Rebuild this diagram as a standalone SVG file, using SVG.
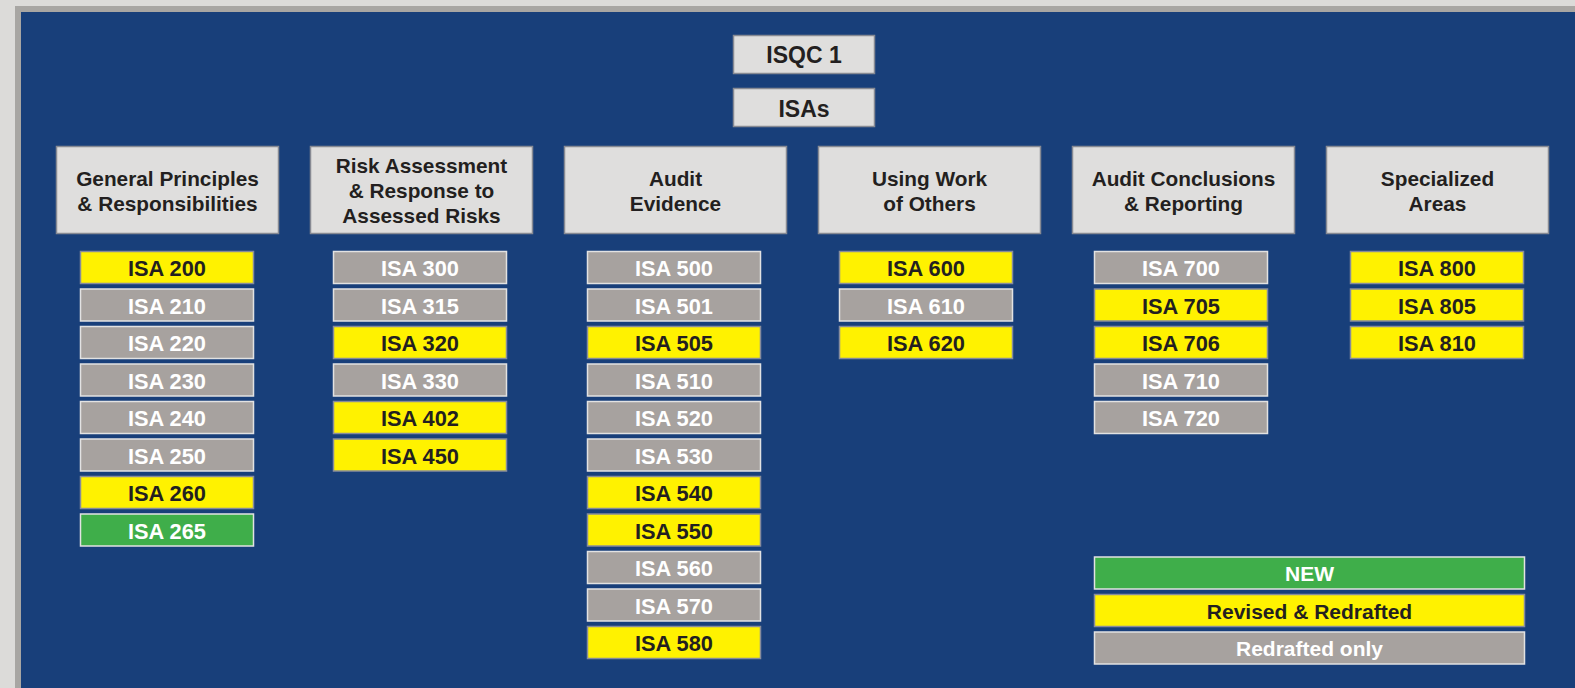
<svg xmlns="http://www.w3.org/2000/svg" width="1575" height="688" viewBox="0 0 1575 688">
<style>
text{font-family:"Liberation Sans",Arial,sans-serif;font-weight:bold;text-anchor:middle}
.hd rect{fill:#dfdedd;stroke:#878a93;stroke-width:1.5}
.hd text{fill:#231f20;font-size:20.8px}
.top rect{fill:#dfdedd;stroke:#878a93;stroke-width:1.5}
.top text{fill:#231f20;font-size:23px}
.y rect{fill:#fff200;stroke:#878c9c;stroke-width:1.5}
.y text{fill:#231f20;font-size:21.8px}
.g rect{fill:#a7a29f;stroke:#e2e2e2;stroke-width:1.5}
.g text{fill:#ffffff;font-size:21.8px}
.n rect{fill:#3fae4a;stroke:#e2e2e2;stroke-width:1.5}
.n text{fill:#ffffff;font-size:21.8px}
.lg text{font-size:21px}
</style>
<rect x="0" y="0" width="1575" height="688" fill="#dcdbd9"/>
<rect x="15" y="6" width="1560" height="682" fill="#a8a6a3"/>
<rect x="21" y="12" width="1554" height="676" fill="#183f7a"/>

<g id="isqc1" class="top"><rect x="733.5" y="35.5" width="141" height="38"/><text x="804" y="63">ISQC 1</text></g>
<g id="isas" class="top"><rect x="733.5" y="88.5" width="141" height="38"/><text x="804" y="117">ISAs</text></g>

<g id="h-general" class="hd"><rect x="56.5" y="146.5" width="222" height="87"/><text x="167.5" y="186">General Principles</text><text x="167.5" y="211">&amp; Responsibilities</text></g>
<g id="h-risk" class="hd"><rect x="310.5" y="146.5" width="222" height="87"/><text x="421.5" y="173">Risk Assessment</text><text x="421.5" y="198">&amp; Response to</text><text x="421.5" y="223">Assessed Risks</text></g>
<g id="h-evidence" class="hd"><rect x="564.5" y="146.5" width="222" height="87"/><text x="675.5" y="186">Audit</text><text x="675.5" y="211">Evidence</text></g>
<g id="h-others" class="hd"><rect x="818.5" y="146.5" width="222" height="87"/><text x="929.5" y="186">Using Work</text><text x="929.5" y="211">of Others</text></g>
<g id="h-conclusions" class="hd"><rect x="1072.5" y="146.5" width="222" height="87"/><text x="1183.5" y="186">Audit Conclusions</text><text x="1183.5" y="211">&amp; Reporting</text></g>
<g id="h-special" class="hd"><rect x="1326.5" y="146.5" width="222" height="87"/><text x="1437.5" y="186">Specialized</text><text x="1437.5" y="211">Areas</text></g>

<!-- column 1 -->
<g id="isa200" class="y"><rect x="80.5" y="251.5" width="173" height="32"/><text x="167" y="276">ISA 200</text></g>
<g id="isa210" class="g"><rect x="80.5" y="289" width="173" height="32"/><text x="167" y="313.5">ISA 210</text></g>
<g id="isa220" class="g"><rect x="80.5" y="326.5" width="173" height="32"/><text x="167" y="351">ISA 220</text></g>
<g id="isa230" class="g"><rect x="80.5" y="364" width="173" height="32"/><text x="167" y="388.5">ISA 230</text></g>
<g id="isa240" class="g"><rect x="80.5" y="401.5" width="173" height="32"/><text x="167" y="426">ISA 240</text></g>
<g id="isa250" class="g"><rect x="80.5" y="439" width="173" height="32"/><text x="167" y="463.5">ISA 250</text></g>
<g id="isa260" class="y"><rect x="80.5" y="476.5" width="173" height="32"/><text x="167" y="501">ISA 260</text></g>
<g id="isa265" class="n"><rect x="80.5" y="514" width="173" height="32"/><text x="167" y="538.5">ISA 265</text></g>

<!-- column 2 -->
<g id="isa300" class="g"><rect x="333.5" y="251.5" width="173" height="32"/><text x="420" y="276">ISA 300</text></g>
<g id="isa315" class="g"><rect x="333.5" y="289" width="173" height="32"/><text x="420" y="313.5">ISA 315</text></g>
<g id="isa320" class="y"><rect x="333.5" y="326.5" width="173" height="32"/><text x="420" y="351">ISA 320</text></g>
<g id="isa330" class="g"><rect x="333.5" y="364" width="173" height="32"/><text x="420" y="388.5">ISA 330</text></g>
<g id="isa402" class="y"><rect x="333.5" y="401.5" width="173" height="32"/><text x="420" y="426">ISA 402</text></g>
<g id="isa450" class="y"><rect x="333.5" y="439" width="173" height="32"/><text x="420" y="463.5">ISA 450</text></g>

<!-- column 3 -->
<g id="isa500" class="g"><rect x="587.5" y="251.5" width="173" height="32"/><text x="674" y="276">ISA 500</text></g>
<g id="isa501" class="g"><rect x="587.5" y="289" width="173" height="32"/><text x="674" y="313.5">ISA 501</text></g>
<g id="isa505" class="y"><rect x="587.5" y="326.5" width="173" height="32"/><text x="674" y="351">ISA 505</text></g>
<g id="isa510" class="g"><rect x="587.5" y="364" width="173" height="32"/><text x="674" y="388.5">ISA 510</text></g>
<g id="isa520" class="g"><rect x="587.5" y="401.5" width="173" height="32"/><text x="674" y="426">ISA 520</text></g>
<g id="isa530" class="g"><rect x="587.5" y="439" width="173" height="32"/><text x="674" y="463.5">ISA 530</text></g>
<g id="isa540" class="y"><rect x="587.5" y="476.5" width="173" height="32"/><text x="674" y="501">ISA 540</text></g>
<g id="isa550" class="y"><rect x="587.5" y="514" width="173" height="32"/><text x="674" y="538.5">ISA 550</text></g>
<g id="isa560" class="g"><rect x="587.5" y="551.5" width="173" height="32"/><text x="674" y="576">ISA 560</text></g>
<g id="isa570" class="g"><rect x="587.5" y="589" width="173" height="32"/><text x="674" y="613.5">ISA 570</text></g>
<g id="isa580" class="y"><rect x="587.5" y="626.5" width="173" height="32"/><text x="674" y="651">ISA 580</text></g>

<!-- column 4 -->
<g id="isa600" class="y"><rect x="839.5" y="251.5" width="173" height="32"/><text x="926" y="276">ISA 600</text></g>
<g id="isa610" class="g"><rect x="839.5" y="289" width="173" height="32"/><text x="926" y="313.5">ISA 610</text></g>
<g id="isa620" class="y"><rect x="839.5" y="326.5" width="173" height="32"/><text x="926" y="351">ISA 620</text></g>

<!-- column 5 -->
<g id="isa700" class="g"><rect x="1094.5" y="251.5" width="173" height="32"/><text x="1181" y="276">ISA 700</text></g>
<g id="isa705" class="y"><rect x="1094.5" y="289" width="173" height="32"/><text x="1181" y="313.5">ISA 705</text></g>
<g id="isa706" class="y"><rect x="1094.5" y="326.5" width="173" height="32"/><text x="1181" y="351">ISA 706</text></g>
<g id="isa710" class="g"><rect x="1094.5" y="364" width="173" height="32"/><text x="1181" y="388.5">ISA 710</text></g>
<g id="isa720" class="g"><rect x="1094.5" y="401.5" width="173" height="32"/><text x="1181" y="426">ISA 720</text></g>

<!-- column 6 -->
<g id="isa800" class="y"><rect x="1350.5" y="251.5" width="173" height="32"/><text x="1437" y="276">ISA 800</text></g>
<g id="isa805" class="y"><rect x="1350.5" y="289" width="173" height="32"/><text x="1437" y="313.5">ISA 805</text></g>
<g id="isa810" class="y"><rect x="1350.5" y="326.5" width="173" height="32"/><text x="1437" y="351">ISA 810</text></g>

<!-- legend -->
<g id="legend-new" class="n lg"><rect x="1094.5" y="557" width="430" height="32"/><text x="1309.5" y="581">NEW</text></g>
<g id="legend-revised" class="y lg"><rect x="1094.5" y="594.5" width="430" height="32"/><text x="1309.5" y="618.5">Revised &amp; Redrafted</text></g>
<g id="legend-redrafted" class="g lg"><rect x="1094.5" y="632" width="430" height="32"/><text x="1309.5" y="656">Redrafted only</text></g>

<g id="connectors"></g>
</svg>
